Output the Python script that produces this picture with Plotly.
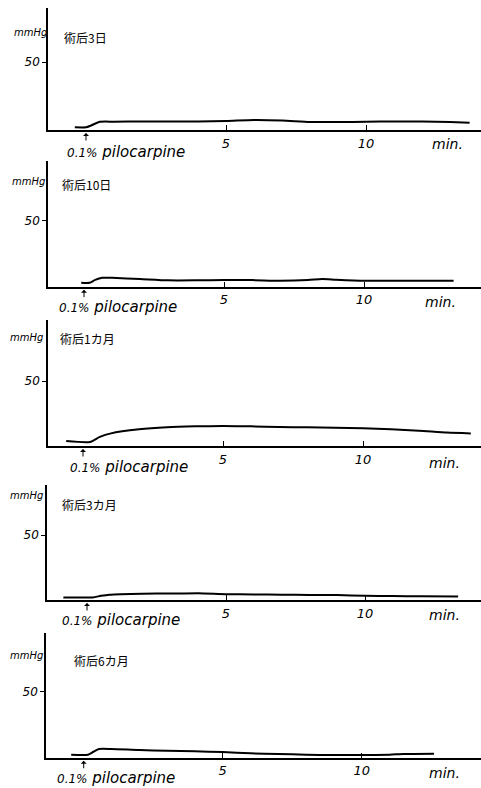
import plotly.graph_objects as go

# ---- data (minutes after instillation, mmHg) ----
labels = ["術后3日", "術后10日", "術后1カ月", "術后3カ月", "術后6カ月"]

t1 = [-0.4, 0, 0.2, 0.5, 1, 2, 3, 4, 5, 6, 7, 8, 9, 10, 11, 12, 13, 13.7]
p1 = [2.0, 2.0, 3.5, 6.0, 6.1, 6.2, 6.2, 6.3, 6.6, 7.4, 7.0, 5.9, 5.8, 6.0, 6.3, 6.2, 5.8, 5.4]

t2 = [-0.1, 0.2, 0.4, 0.65, 1, 2, 3, 4, 5, 6, 7, 8, 8.5, 9, 10, 11, 12, 13.2]
p2 = [3.0, 3.0, 5.2, 6.8, 6.7, 5.8, 4.8, 4.8, 5.0, 5.0, 4.5, 5.0, 5.8, 5.3, 4.5, 4.5, 4.6, 4.5]

t3 = [-0.6, 0.25, 0.6, 1.0, 2, 3, 4, 5, 6, 7, 8, 9, 10, 11, 12, 13, 13.85]
p3 = [3.8, 3.1, 7.0, 9.7, 12.8, 14.4, 15.1, 15.4, 15.1, 14.6, 14.4, 14.1, 13.6, 12.8, 11.8, 10.3, 9.7]

t4 = [-0.85, 0.2, 0.5, 0.8, 2, 3, 4, 5, 6, 7, 8, 9, 10, 11, 12, 13.35]
p4 = [2.0, 2.0, 3.2, 4.1, 4.9, 5.0, 5.1, 4.5, 4.3, 4.1, 3.9, 3.8, 3.3, 3.0, 2.8, 2.6]

t5 = [-0.45, 0.15, 0.35, 0.55, 1, 2, 3, 4, 5, 6, 7, 8, 9, 10, 11, 11.5, 12.6]
p5 = [2.3, 2.3, 4.5, 6.6, 6.6, 5.8, 5.3, 4.8, 4.3, 3.3, 2.8, 2.3, 2.0, 2.0, 2.3, 2.8, 3.0]

x_ticks = [5, 10]
x_ticktext = ["5", "10"]
y_ticks = [50]
y_ticktext = ["50"]
drug_label = "0.1% pilocarpine"
unit_y = "mmHg"
unit_x = "min."

series = [(t1, p1), (t2, p2), (t3, p3), (t4, p4), (t5, p5)]

# ---- layout geometry (pixels) ----
W, H = 481, 788
geo = [
    dict(left=48, x0=86, ppm=28.0, bottom=130, y50=62, top=8,
         mm=(30, 32), cn=(62, 37), pilo=(65, 152), minx=(430, 144)),
    dict(left=48, x0=84, ppm=28.0, bottom=286.7, y50=220.7, top=161,
         mm=(28, 182), cn=(60, 184), pilo=(57, 307), minx=(423, 302)),
    dict(left=48, x0=83, ppm=28.0, bottom=446, y50=381, top=320,
         mm=(26, 337), cn=(58, 338), pilo=(68, 467), minx=(427, 463)),
    dict(left=47, x0=87, ppm=27.8, bottom=600, y50=535, top=485,
         mm=(26, 495), cn=(60, 505), pilo=(60, 620), minx=(427, 615)),
    dict(left=46, x0=83.7, ppm=27.8, bottom=757.7, y50=691.7, top=633,
         mm=(26, 655), cn=(72, 660), pilo=(55, 778), minx=(427, 773)),
]

ITAL = "DejaVu Sans"
CJK = "Noto Sans CJK JP"

fig = go.Figure()
layout = dict(width=W, height=H, autosize=False,
              margin=dict(l=0, r=0, t=0, b=0),
              paper_bgcolor="white", plot_bgcolor="white",
              showlegend=False)
annotations = []

for i, (g, (tt, pp), lab) in enumerate(zip(geo, series, labels), start=1):
    xa = "x" if i == 1 else f"x{i}"
    ya = "y" if i == 1 else f"y{i}"
    xkey = "xaxis" if i == 1 else f"xaxis{i}"
    ykey = "yaxis" if i == 1 else f"yaxis{i}"
    pxmm = (g["bottom"] - g["y50"]) / 50.0
    xr = [(g["left"] - g["x0"]) / g["ppm"], (W - g["x0"]) / g["ppm"]]
    yr = [0, (g["bottom"] - g["top"]) / pxmm]

    fig.add_trace(go.Scatter(x=tt, y=pp, mode="lines", xaxis=xa, yaxis=ya,
                             line=dict(color="black", width=2, shape="spline", smoothing=0.6),
                             hoverinfo="skip"))

    layout[xkey] = dict(domain=[g["left"] / W, 1], range=xr, anchor=ya,
                        showline=True, linecolor="black", linewidth=2,
                        showgrid=False, zeroline=False,
                        ticks="inside", ticklen=5, tickwidth=1.2, tickcolor="black",
                        tickvals=x_ticks, ticktext=x_ticktext,
                        tickfont=dict(family=ITAL, size=13, color="black", style="italic"),
                        fixedrange=True)
    layout[ykey] = dict(domain=[(H - g["bottom"]) / H, (H - g["top"]) / H], range=yr,
                        anchor=xa, showline=True, linecolor="black", linewidth=1.6,
                        showgrid=False, zeroline=False,
                        ticks="outside", ticklen=4, tickwidth=1.2, tickcolor="black",
                        tickvals=y_ticks, ticktext=y_ticktext,
                        tickfont=dict(family=ITAL, size=12, color="black", style="italic"),
                        fixedrange=True)

    # arrow marking instillation at t = 0
    annotations.append(dict(x=0, y=0, xref=xa, yref=f"{ya} domain", yshift=-3,
                            ax=0, ay=9, axref="pixel", ayref="pixel",
                            showarrow=True, arrowhead=1, arrowsize=1, arrowwidth=1,
                            arrowcolor="black", text=""))
    # texts
    annotations.append(dict(x=g["mm"][0] / W, y=1 - g["mm"][1] / H, xref="paper", yref="paper",
                            text=unit_y, showarrow=False, xanchor="center", yanchor="middle",
                            font=dict(family=ITAL, size=10, color="black", style="italic")))
    annotations.append(dict(x=g["cn"][0] / W, y=1 - g["cn"][1] / H, xref="paper", yref="paper",
                            text=lab, showarrow=False, xanchor="left", yanchor="middle",
                            font=dict(family=CJK, size=12, color="black")))
    annotations.append(dict(x=g["pilo"][0] / W, y=1 - g["pilo"][1] / H, xref="paper", yref="paper",
                            text=drug_label.replace("0.1%", "<span style='font-size:12px'>0.1%</span>"),
                            showarrow=False, xanchor="left", yanchor="middle",
                            font=dict(family=ITAL, size=15, color="black", style="italic")))
    annotations.append(dict(x=g["minx"][0] / W, y=1 - g["minx"][1] / H, xref="paper", yref="paper",
                            text=unit_x, showarrow=False, xanchor="left", yanchor="middle",
                            font=dict(family=ITAL, size=14, color="black", style="italic")))

layout["annotations"] = annotations
fig.update_layout(**layout)
fig.write_html("out.html", config={"displayModeBar": False},
               post_script="document.body.style.margin='0';document.body.style.overflow='hidden';")
